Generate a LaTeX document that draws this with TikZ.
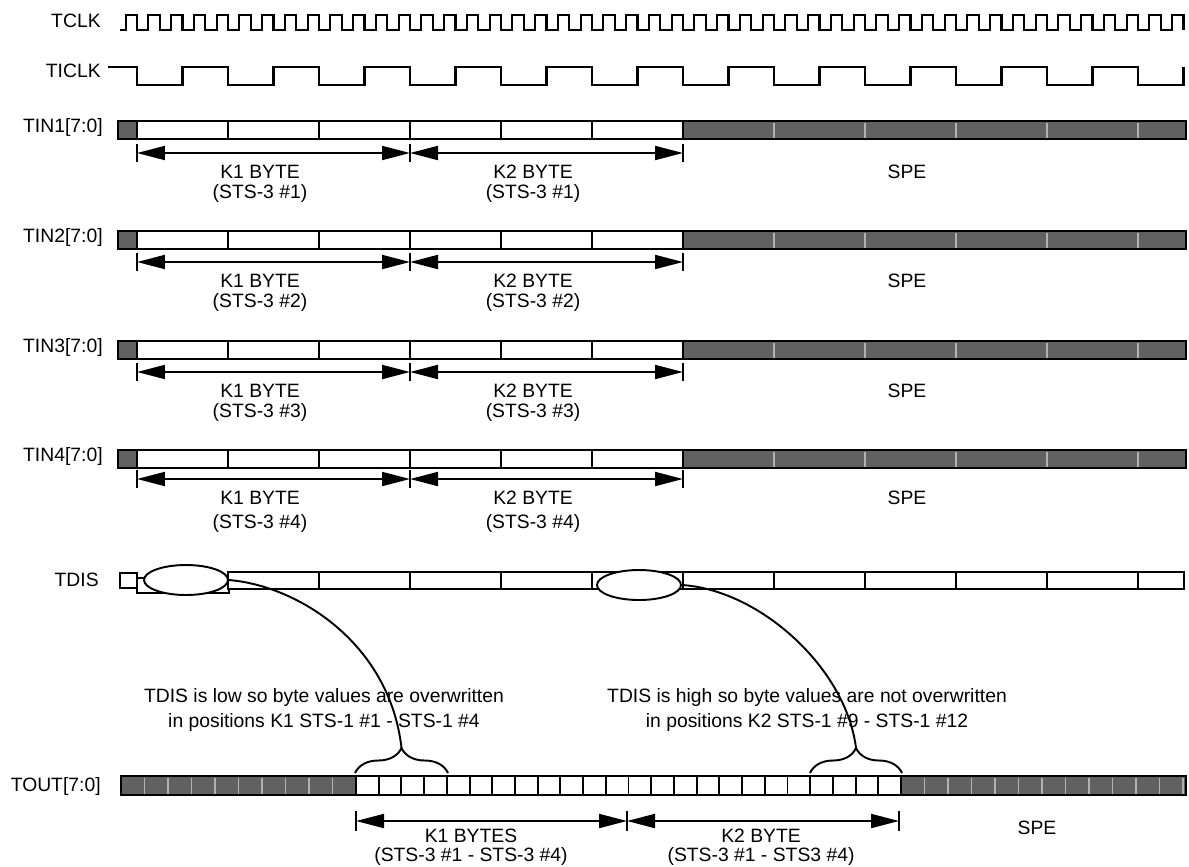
\documentclass[tikz,border=0pt]{standalone}
\usepackage{fontspec}
\setmainfont{Liberation Sans}
\usetikzlibrary{arrows.meta,decorations.pathreplacing,shapes.geometric}
\begin{document}
\begin{tikzpicture}[x=0.02cm,y=-0.02cm,
  lbl/.style={font=\fontsize{11}{13.7}\selectfont, inner sep=0pt},
  tight/.style={font=\fontsize{11}{10.6}\selectfont, inner sep=0pt, align=center},
  wave/.style={line width=1.2pt, line join=miter},
  cell/.style={draw, line width=1.1pt, fill=white},
  shade/.style={draw, line width=1.1pt, fill=black!62},
  sep/.style={draw=black!30, line width=0.7pt},
  dim/.style={line width=1.1pt, {Triangle[length=0.56cm,width=0.28cm]}-{Triangle[length=0.56cm,width=0.28cm]}, shorten >=0pt, shorten <=0pt},
  tk/.style={line width=1.1pt},
  oval/.style={draw, ellipse, line width=1.1pt, fill=white, minimum width=1.68cm, minimum height=0.6cm, inner sep=0pt},
  link/.style={line width=1.1pt},
  brc/.style={line width=1.1pt, decorate, decoration={brace, amplitude=0.5cm}},
]
\useasboundingbox (0,0) rectangle (1189,866);

% ---- clocks ----
\node[lbl, anchor=east] (tclk) at (101,21) {TCLK};
\node[lbl, anchor=east] (ticlk) at (101,71) {TICLK};
\draw[wave] (120,30) \foreach \k in {0,...,46} { -- ({125.6+22.75*\k},30) -- ({125.6+22.75*\k},15) -- ({137+22.75*\k},15) -- ({137+22.75*\k},30) };
\draw[wave] (108,67) -- (137,67) -- (137,85) \foreach \k in {0,...,10} { -- ({182.5+91*\k},85) -- ({182.5+91*\k},67) -- ({228+91*\k},67) -- ({228+91*\k},85) } -- (1183.5,85) -- (1183.5,67);

% ---- TIN rows ----
\foreach \n/\t/\a/\la/\lb in {1/121/153/172/193, 2/231/262/281/302, 3/341/372/391/412, 4/450/479/498/523} {
  \node[lbl, anchor=east] (tin\n) at (103,{\t+6}) {TIN\n[7:0]};
  \draw[shade] (118,\t) rectangle (137,{\t+18});
  \foreach \c in {0,...,5} { \draw[cell] ({137+91*\c},\t) rectangle ({228+91*\c},{\t+18}); }
  \draw[shade] (683,\t) rectangle (1186,{\t+18});
  \foreach \x in {774,865,956,1047,1138} { \draw[sep] (\x,{\t+1.5}) -- (\x,{\t+16.5}); }
  \coordinate (s\n) at (137,\a);
  \coordinate (m\n) at (410,\a);
  \coordinate (e\n) at (683,\a);
  \foreach \p in {s\n,m\n,e\n} { \draw[tk] ([yshift=-0.17cm]\p) -- ([yshift=0.18cm]\p); }
  \draw[dim] (s\n) -- (m\n);
  \draw[dim] (m\n) -- (e\n);
  \node[lbl] (ka\n) at (260,\la) {K1 BYTE};
  \node[lbl] (kb\n) at (260,\lb) {(STS-3 \#\n)};
  \node[lbl] (kc\n) at (533,\la) {K2 BYTE};
  \node[lbl] (kd\n) at (533,\lb) {(STS-3 \#\n)};
  \node[lbl] (spe\n) at (907,\la) {SPE};
}

% ---- TDIS ----
\node[lbl, anchor=east] (tdis) at (99,580) {TDIS};
\draw[cell] (120,573) rectangle (137,588);
\draw[cell] (137,578) rectangle (229,593);
\foreach \c in {0,...,9} { \draw[cell] ({228+91*\c},572) rectangle ({319+91*\c},589); }
\draw[cell] (1138,572) rectangle (1184,589);
\node[oval] (ov1) at (186,580) {};
\node[oval] (ov2) at (639,585) {};

% ---- notes ----
\node[lbl, align=center] (note1) at (324,710) {TDIS is low so byte values are overwritten\\in positions K1 STS-1 \#1 - STS-1 \#4};
\node[lbl, align=center] (note2) at (807,710) {TDIS is high so byte values are not overwritten\\in positions K2 STS-1 \#9 - STS-1 \#12};

% ---- TOUT ----
\node[lbl, anchor=east] (tout) at (101,786) {TOUT[7:0]};
\draw[shade] (121,776) rectangle (356,795);
\foreach \c in {1,...,9} { \draw[sep] ({356-23.5*\c},777.5) -- ({356-23.5*\c},793.5); }
\foreach \c in {0,...,23} { \draw[cell] ({356+22.7083*\c},776) rectangle ({356+22.7083*(\c+1)},795); }
\draw[shade] (901,776) rectangle (1186,795);
\foreach \c in {1,...,12} { \draw[sep] ({901+23.5*\c},777.5) -- ({901+23.5*\c},793.5); }

\draw[brc] (355,773) -- (448,773) coordinate[pos=0.5] (bm1);
\draw[brc] (810,773) -- (902,773) coordinate[pos=0.5] (bm2);
\coordinate (br1) at (401.5,748);
\coordinate (br2) at (856,748);

\draw[link] (ov1.east) .. controls (300,586) and (390,645) .. (br1);
\draw[link] (ov2.east) .. controls (760,590) and (846,668) .. (br2);

\coordinate (ts) at (356,821);
\coordinate (tm) at (627,821);
\coordinate (te) at (899,821);
\foreach \p in {ts,tm,te} { \draw[tk] ([yshift=-0.2cm]\p) -- ([yshift=0.2cm]\p); }
\draw[dim] (ts) -- (tm);
\draw[dim] (tm) -- (te);
\node[tight] (tk1) at (471,847) {K1 BYTES\\(STS-3 \#1 - STS-3 \#4)};
\node[tight] (tk2) at (761,847) {K2 BYTE\\(STS-3 \#1 - STS3 \#4)};
\node[lbl] (spet) at (1037,828) {SPE};
\end{tikzpicture}
\end{document}
